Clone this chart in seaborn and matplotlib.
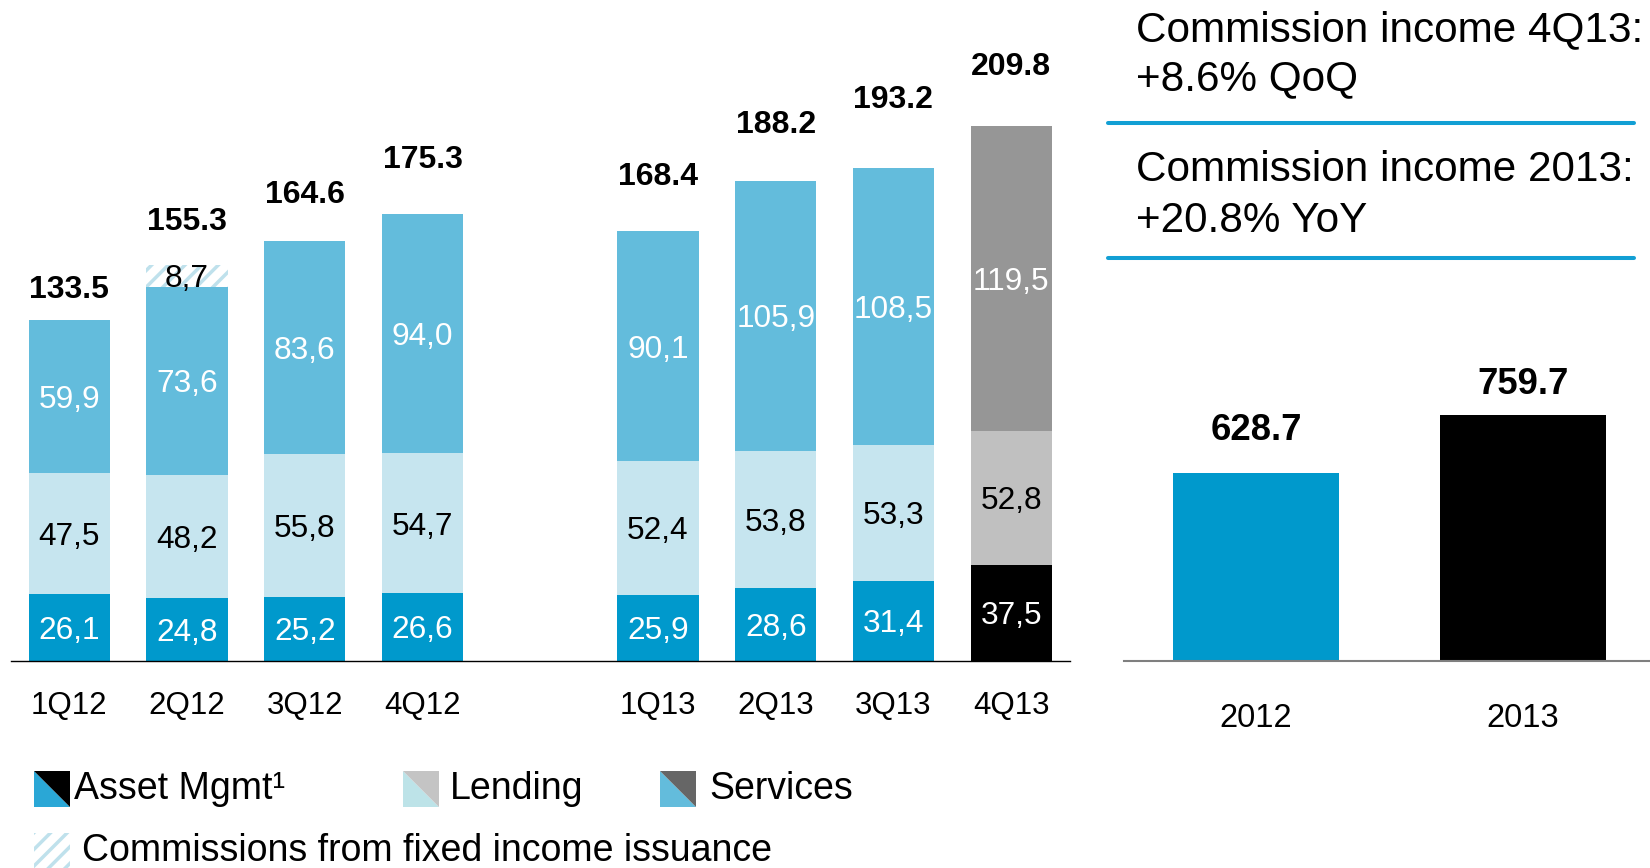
import numpy as np
import matplotlib
matplotlib.use("Agg")
import matplotlib.pyplot as plt
from matplotlib.patches import Polygon, Rectangle
from matplotlib.lines import Line2D
import seaborn as sns

# ---- data -------------------------------------------------------------
quarters = ["1Q12", "2Q12", "3Q12", "4Q12", "1Q13", "2Q13", "3Q13", "4Q13"]
asset_mgmt = [26.1, 24.8, 25.2, 26.6, 25.9, 28.6, 31.4, 37.5]
lending = [47.5, 48.2, 55.8, 54.7, 52.4, 53.8, 53.3, 52.8]
services = [59.9, 73.6, 83.6, 94.0, 90.1, 105.9, 108.5, 119.5]
fixed_income_quarters = ["2Q12"]
fixed_income = [8.7]
quarter_totals = [133.5, 155.3, 164.6, 175.3, 168.4, 188.2, 193.2, 209.8]

years = ["2012", "2013"]
year_totals = [628.7, 759.7]

headline = ["Commission income 4Q13:", "+8.6% QoQ",
            "Commission income 2013:", "+20.8% YoY"]
legend_labels = ["Asset Mgmt\u00b9", "Lending", "Services",
                 "Commissions from fixed income issuance"]

# ---- style ------------------------------------------------------------
ASSET = "#0099CC"
LEND = "#C6E5EF"
SERV = "#63BCDC"
ASSET_LAST = "#000000"
LEND_LAST = "#C0C0C0"
SERV_LAST = "#969696"
HATCH = "#BFE1EC"
RULE = "#129FD4"

sns.set_style("white")
plt.rcParams["font.family"] = ["Liberation Sans", "DejaVu Sans"]
plt.rcParams["text.color"] = "black"
plt.rcParams["xtick.color"] = "black"
plt.rcParams["xtick.labelcolor"] = "black"
plt.rcParams["hatch.linewidth"] = 2.5

W, H = 1650, 868
fig = plt.figure(figsize=(W / 100, H / 100), dpi=100)


def rect(x0, y_top, x1, y_base):
    """Axes rectangle from pixel edges measured from the top-left corner."""
    return [x0 / W, 1 - y_base / H, (x1 - x0) / W, (y_base - y_top) / H]


def fy(y):
    return 1 - y / H


ax = fig.add_axes(rect(10.5, 0, 1070, 660.8))
ax2 = fig.add_axes(rect(1124, 0, 1650, 660.8))

# ---- quarterly stacked bars ------------------------------------------
slots = quarters[:4] + [" "] + quarters[4:]
a = np.array(asset_mgmt)
l = np.array(lending)
s = np.array(services)
layers = [
    (a, np.zeros_like(a), ASSET, ASSET_LAST),
    (l, a, LEND, LEND_LAST),
    (s, a + l, SERV, SERV_LAST),
]
bar_w = 0.69
for vals, base, col, last_col in layers:
    sns.barplot(x=quarters, y=vals, order=slots, bottom=base, color=col,
                saturation=1, width=bar_w, linewidth=0, errorbar=None, ax=ax)
    ax.containers[-1].patches[-1].set_facecolor(last_col)

fi_idx = [quarters.index(q) for q in fixed_income_quarters]
sns.barplot(x=fixed_income_quarters, y=fixed_income, order=slots,
            bottom=(a + l + s)[fi_idx], color="white", saturation=1,
            width=bar_w, linewidth=0, edgecolor=HATCH, hatch="//",
            errorbar=None, ax=ax)


def fmt(v):
    return f"{v:.1f}".replace(".", ",")


seg_fs = 22.8
va_mid = "center_baseline"
for i, q in enumerate(quarters):
    x = slots.index(q)
    ax.text(x, a[i] / 2, fmt(a[i]), ha="center", va=va_mid,
            color="white", fontsize=seg_fs)
    ax.text(x, a[i] + l[i] / 2, fmt(l[i]), ha="center", va=va_mid,
            color="black", fontsize=seg_fs)
    ax.text(x, a[i] + l[i] + s[i] / 2, fmt(s[i]), ha="center", va=va_mid,
            color="white", fontsize=seg_fs)

for j, q in zip(fi_idx, fixed_income_quarters):
    x = slots.index(q)
    base = a[j] + l[j] + s[j]
    ax.text(x, base + fixed_income[0] / 2, fmt(fixed_income[0]),
            ha="center", va=va_mid, color="black", fontsize=seg_fs)

# totals above each stack
total_lift = [34, 46, 50, 57, 58, 59, 72, 62]
for i, q in enumerate(quarters):
    x = slots.index(q)
    ax.annotate(f"{quarter_totals[i]:.1f}", xy=(x, quarter_totals[i]),
                xytext=(0, total_lift[i]), textcoords="offset pixels",
                ha="center", va=va_mid, fontsize=23, fontweight="bold")

ax.set_xlim(-0.5, 8.5)
ax.set_ylim(0, 259.1)

# ---- yearly bars ------------------------------------------------------
sns.barplot(x=years, y=year_totals, hue=years, palette=[ASSET, "#000000"],
            saturation=1, width=0.623, linewidth=0, errorbar=None,
            legend=False, ax=ax2)
year_lift = [47, 34]
for i, v in enumerate(year_totals):
    ax2.annotate(f"{v:.1f}", xy=(i, v), xytext=(0, year_lift[i]),
                 textcoords="offset pixels", ha="center", va=va_mid,
                 fontsize=26.3, fontweight="bold")
ax2.set_xlim(-0.494, 1.476)
ax2.set_ylim(212, 1682)

# ---- axes cosmetics ---------------------------------------------------
for axis in (ax, ax2):
    sns.despine(ax=axis, left=True)
    axis.set_yticks([])
    axis.set_xlabel("")
    axis.set_ylabel("")
    axis.tick_params(axis="x", length=0, labelcolor="black")
    axis.patch.set_alpha(0)
ax.spines["bottom"].set_color("black")
ax.spines["bottom"].set_linewidth(1.0)
ax.tick_params(axis="x", pad=21.5, labelsize=22.5)
ax2.spines["bottom"].set_color("#7f7f7f")
ax2.spines["bottom"].set_linewidth(1.5)
ax2.tick_params(axis="x", pad=30.5, labelsize=23.5)

# ---- headline block ---------------------------------------------------
baselines = [41.0, 90.5, 181.0, 232.5]
for txt, yb in zip(headline, baselines):
    fig.text(1136.5 / W, fy(yb), txt, fontsize=30.4, va="baseline", ha="left")
for yl in (123.1, 257.8):
    fig.add_artist(Line2D([1108 / W, 1634 / W], [fy(yl), fy(yl)],
                          color=RULE, linewidth=2.9))

# ---- legend -----------------------------------------------------------
def split_icon(x0, y_top, size, lower, upper):
    x1, yb = x0 + size, y_top + size
    fig.add_artist(Polygon([(x0 / W, fy(y_top)), (x0 / W, fy(yb)), (x1 / W, fy(yb))],
                           closed=True, facecolor=lower, edgecolor="none",
                           transform=fig.transFigure))
    fig.add_artist(Polygon([(x0 / W, fy(y_top)), (x1 / W, fy(y_top)), (x1 / W, fy(yb))],
                           closed=True, facecolor=upper, edgecolor="none",
                           transform=fig.transFigure))


icon = 36
row1, row2 = 789, 851
split_icon(34, row1 - icon / 2, icon, "#2AA7D6", "#000000")
split_icon(403, row1 - icon / 2, icon, "#BDE3E8", "#C4C4C4")
split_icon(660, row1 - icon / 2, icon, "#63BCDC", "#666666")
fig.add_artist(Rectangle((34 / W, fy(row2 + icon / 2)), icon / W, icon / H,
                         facecolor="white", edgecolor=HATCH, linewidth=0,
                         hatch="//", transform=fig.transFigure))

leg_fs = 27
fig.text(74 / W, fy(row1), legend_labels[0], fontsize=leg_fs, va="center")
fig.text(450 / W, fy(row1), legend_labels[1], fontsize=leg_fs, va="center")
fig.text(709 / W, fy(row1), legend_labels[2], fontsize=leg_fs, va="center")
fig.text(82 / W, fy(row2), legend_labels[3], fontsize=leg_fs, va="center")

fig.savefig("out.png", dpi=100)
